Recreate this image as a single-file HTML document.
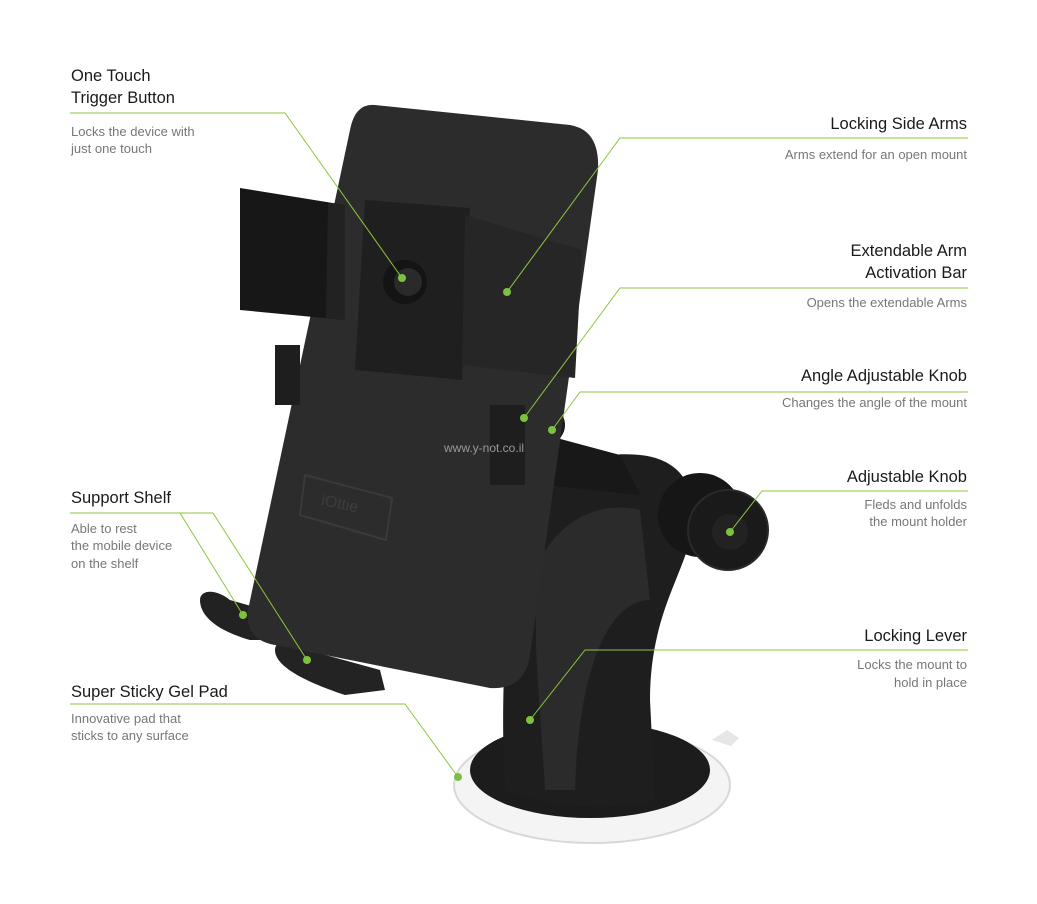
<!DOCTYPE html>
<html><head><meta charset="utf-8"><style>
body{margin:0;background:#fff;}
svg{display:block}
.t{font-family:"Liberation Sans",sans-serif;font-size:16.5px;fill:#1a1a1a}
.d{font-family:"Liberation Sans",sans-serif;font-size:13px;fill:#777}
.l{stroke:#8dc63f;stroke-width:1;fill:none}
.dot{fill:#7dc142}
</style></head><body>
<svg width="1037" height="904" viewBox="0 0 1037 904">
<!-- suction base -->
<ellipse cx="592" cy="785" rx="138" ry="58" fill="#f4f4f4" stroke="#d8d8d8" stroke-width="2"/>
<ellipse cx="590" cy="770" rx="120" ry="48" fill="#1c1c1c"/>
<path d="M712 740 l15 -10 l12 8 l-8 8z" fill="#e6e6e6"/>
<!-- pedestal -->
<path d="M505 790 C500 700 505 600 520 530 C535 470 590 450 640 455 C690 460 700 500 690 540 C680 580 650 620 650 700 L655 800 C620 810 560 810 505 790Z" fill="#1e1e1e"/>
<path d="M540 560 C560 520 600 500 640 510 L650 600 C620 600 580 640 575 790 L545 790 C540 700 530 620 540 560Z" fill="#2b2b2b"/>
<!-- arm bar -->
<path d="M490 420 L620 455 L640 495 L500 480Z" fill="#181818"/>
<!-- knob -->
<ellipse cx="700" cy="515" rx="42" ry="42" fill="#161616"/>
<circle cx="728" cy="530" r="40" fill="#1a1a1a" stroke="#2a2a2a" stroke-width="2"/>
<circle cx="730" cy="532" r="18" fill="#222"/>
<!-- angle knob -->
<ellipse cx="540" cy="425" rx="25" ry="22" fill="#1a1a1a"/>
<!-- shelves -->
<path d="M200 600 C200 590 215 588 230 600 L300 620 L300 640 L250 640 C215 630 200 615 200 600Z" fill="#222"/>
<path d="M275 650 C275 640 290 638 300 648 L380 670 L385 690 L345 695 C300 680 275 665 275 650Z" fill="#232323"/>
<!-- main holder -->
<path d="M375 105 L570 125 Q600 130 598 170 L530 655 Q525 690 490 688 L275 645 Q245 640 248 610 L350 130 Q355 103 375 105Z" fill="#2c2c2c"/>
<path d="M305 475 L392 498 L386 540 L300 515Z" fill="none" stroke="#3a3a3a" stroke-width="2"/>
<text x="320" y="510" transform="rotate(12 345 510)" font-family="Liberation Sans,sans-serif" font-size="16" fill="#3c3c3c">iOttie</text>
<!-- side pieces -->
<rect x="275" y="345" width="25" height="60" fill="#1e1e1e"/>
<rect x="490" y="405" width="35" height="80" fill="#1e1e1e"/>
<!-- center plate -->
<path d="M365 200 L470 208 L462 380 L355 370Z" fill="#1f1f1f"/>
<!-- left arm -->
<path d="M240 188 L345 205 L345 320 L240 310Z" fill="#171717"/>
<path d="M328 203 L345 205 L345 320 L326 318Z" fill="#222"/>
<!-- right arm -->
<path d="M465 215 L582 250 L575 378 L462 365Z" fill="#262626"/>
<!-- button -->
<circle cx="405" cy="282" r="22" fill="#141414"/>
<circle cx="408" cy="282" r="14" fill="#2a2a2a"/>
<text x="444" y="452" font-family="Liberation Sans,sans-serif" font-size="12" fill="#999">www.y-not.co.il</text>

<!-- callout lines -->
<polyline class="l" points="70,113 285,113 402,278"/>
<polyline class="l" points="70,513 213,513"/>
<line class="l" x1="180" y1="513" x2="243" y2="615"/>
<line class="l" x1="213" y1="513" x2="307" y2="660"/>
<polyline class="l" points="70,704 405,704 458,777"/>
<polyline class="l" points="968,138 620,138 507,292"/>
<polyline class="l" points="968,288 620,288 524,418"/>
<polyline class="l" points="968,392 580,392 552,430"/>
<polyline class="l" points="968,491 762,491 730,532"/>
<polyline class="l" points="968,650 585,650 530,720"/>
<circle class="dot" cx="402" cy="278" r="4"/>
<circle class="dot" cx="243" cy="615" r="4"/>
<circle class="dot" cx="307" cy="660" r="4"/>
<circle class="dot" cx="458" cy="777" r="4"/>
<circle class="dot" cx="507" cy="292" r="4"/>
<circle class="dot" cx="524" cy="418" r="4"/>
<circle class="dot" cx="552" cy="430" r="4"/>
<circle class="dot" cx="730" cy="532" r="4"/>
<circle class="dot" cx="530" cy="720" r="4"/>

<!-- left labels -->
<text class="t" x="71" y="81">One Touch</text>
<text class="t" x="71" y="103">Trigger  Button</text>
<text class="d" x="71" y="136">Locks the device with</text>
<text class="d" x="71" y="153">just one touch</text>
<text class="t" x="71" y="503">Support Shelf</text>
<text class="d" x="71" y="533">Able to rest</text>
<text class="d" x="71" y="550">the mobile device</text>
<text class="d" x="71" y="568">on the shelf</text>
<text class="t" x="71" y="697">Super Sticky Gel Pad</text>
<text class="d" x="71" y="723">Innovative pad that</text>
<text class="d" x="71" y="740">sticks to any surface</text>

<!-- right labels -->
<g text-anchor="end">
<text class="t" x="967" y="129">Locking Side Arms</text>
<text class="d" x="967" y="159">Arms extend for an open mount</text>
<text class="t" x="967" y="256">Extendable Arm</text>
<text class="t" x="967" y="278">Activation Bar</text>
<text class="d" x="967" y="307">Opens the extendable Arms</text>
<text class="t" x="967" y="381">Angle Adjustable Knob</text>
<text class="d" x="967" y="407">Changes the angle of the mount</text>
<text class="t" x="967" y="482">Adjustable Knob</text>
<text class="d" x="967" y="509">Fleds and unfolds</text>
<text class="d" x="967" y="526">the mount holder</text>
<text class="t" x="967" y="641">Locking Lever</text>
<text class="d" x="967" y="669">Locks the mount to</text>
<text class="d" x="967" y="687">hold in place</text>
</g>
</svg>
</body></html>
